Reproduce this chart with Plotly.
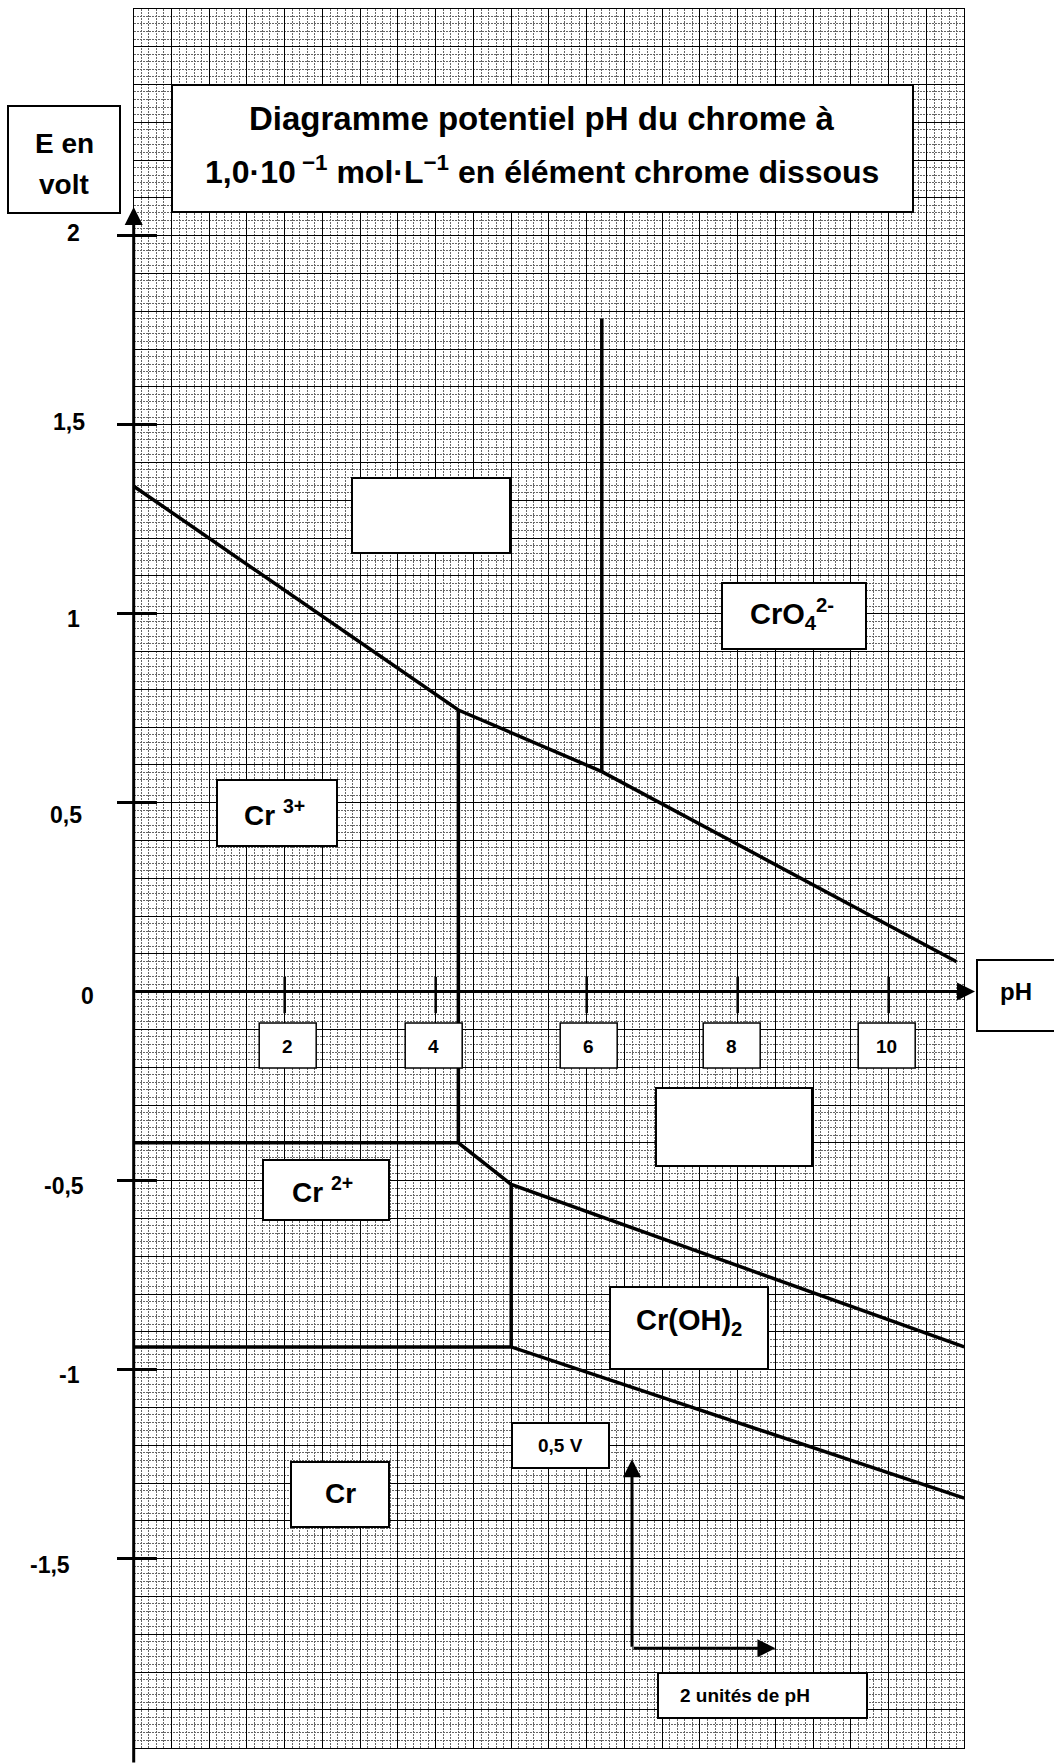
import plotly.graph_objects as go

# ---------------- data ----------------
# boundary Cr3+ / CrO4 2- region (upper broken line)
ph_upper = [0.0, 4.3, 6.2, 10.9]
e_upper = [1.337, 0.745, 0.582, 0.079]
# vertical Cr3+ / Cr(OH)3 boundary
ph_v1 = [4.3, 4.3]
e_v1 = [-0.40, 0.745]
# vertical boundary at pH 6.2
ph_v2 = [6.2, 6.2]
e_v2 = [0.582, 1.78]
# Cr3+/Cr2+ then Cr(OH)3/Cr2+ then Cr(OH)3/Cr(OH)2
ph_mid = [0.0, 4.3, 5.0, 11.0]
e_mid = [-0.40, -0.40, -0.51, -0.94]
# vertical Cr2+ / Cr(OH)2 boundary
ph_v3 = [5.0, 5.0]
e_v3 = [-0.94, -0.51]
# Cr2+/Cr then Cr(OH)2/Cr
ph_low = [0.0, 5.0, 11.0]
e_low = [-0.94, -0.94, -1.34]

# axis ticks
y_tick_vals = [2, 1.5, 1, 0.5, 0, -0.5, -1, -1.5]
y_tick_text = ["2", "1,5", "1", "0,5", "0", "-0,5", "-1", "-1,5"]
x_tick_vals = [2, 4, 6, 8, 10]
x_tick_text = ["2", "4", "6", "8", "10"]

# scale bar
scale_ph0, scale_e0 = 6.6, -1.737
scale_dph, scale_de = 1.9, 0.5

# ---------------- geometry / style ----------------
W, H = 1054, 1764
PX0, SX = 133.7, 75.5    # pixel of pH 0 and px per pH unit
PY0, SY = 991.6, 378.0   # pixel of E = 0 and px per volt
FONT = "Liberation Sans, Arial, sans-serif"

def P(px):
    return px / W

def Q(py):
    return 1 - py / H

x2_range = [(0 - PX0) / SX, (W - PX0) / SX]
y2_range = [(PY0 - H) / SY, PY0 / SY]

GRID_PH = [0, 11]
GRID_E = [-2.0, 2.6]
gx0 = (PX0 + GRID_PH[0] * SX) / W
gx1 = (PX0 + GRID_PH[1] * SX) / W
gy0 = 1 - (PY0 - GRID_E[0] * SY) / H
gy1 = 1 - (PY0 - GRID_E[1] * SY) / H

fig = go.Figure()

# invisible trace for the grid subplot
fig.add_trace(go.Scatter(x=[0], y=[0], mode="markers", marker=dict(opacity=0),
                         hoverinfo="skip", showlegend=False, xaxis="x", yaxis="y"))

line_style = dict(color="black", width=3.5)
for xs, ys in [(ph_upper, e_upper), (ph_v1, e_v1), (ph_v2, e_v2),
               (ph_mid, e_mid), (ph_v3, e_v3), (ph_low, e_low)]:
    fig.add_trace(go.Scatter(x=xs, y=ys, mode="lines", line=line_style,
                             hoverinfo="skip", showlegend=False,
                             xaxis="x2", yaxis="y2"))

# y tick marks
for v in y_tick_vals:
    if v == 0:
        continue
    fig.add_trace(go.Scatter(x=[(117 - PX0) / SX, (157 - PX0) / SX], y=[v, v],
                             mode="lines", line=dict(color="black", width=3),
                             hoverinfo="skip", showlegend=False,
                             xaxis="x2", yaxis="y2"))
# x tick marks
for v in x_tick_vals:
    fig.add_trace(go.Scatter(x=[v, v], y=[0.039, -0.057],
                             mode="lines", line=dict(color="black", width=2.5),
                             hoverinfo="skip", showlegend=False,
                             xaxis="x2", yaxis="y2"))

shapes = []
annotations = []

def box(x0, y0, x1, y1, lw=2):
    shapes.append(dict(type="rect", xref="paper", yref="paper",
                       x0=P(x0), x1=P(x1), y0=Q(y1), y1=Q(y0),
                       fillcolor="white", line=dict(color="black", width=lw),
                       layer="above"))

def text(t, x, y, size, xanchor="center"):
    annotations.append(dict(text=t, xref="paper", yref="paper", x=P(x), y=Q(y),
                            xanchor=xanchor, yanchor="middle", showarrow=False,
                            font=dict(family=FONT, size=size, color="black",
                                      weight="bold")))

# title
box(172, 85, 913, 212)
text("Diagramme potentiel pH du chrome à", 542, 118, 33)
text("1,0·10<sup> −1</sup> mol·L<sup>−1</sup> en élément chrome dissous", 542, 170, 32)

# E en volt
box(8, 106, 120, 213)
text("E en", 64, 143, 28)
text("volt", 64, 184, 28)

# pH label
box(977, 960, 1062, 1031)
text("pH", 1016, 991, 24)

# y tick labels
y_lab_x = [73.5, 69, 73.5, 66, 87, 64, 69, 50]
y_lab_dy = [-3, -3, 5, 12, 4, 5, 5, 6]
for v, t, lx, dy in zip(y_tick_vals, y_tick_text, y_lab_x, y_lab_dy):
    text(t, lx, PY0 - v * SY + dy, 23)

# x tick label boxes
x_lab_dx = [3, -2, 2, -6, -2]
for v, t, dx in zip(x_tick_vals, x_tick_text, x_lab_dx):
    cx = PX0 + v * SX + dx
    box(cx - 28.5, 1023, cx + 28.5, 1068, lw=1.5)
    text(t, cx, 1046, 19)

# species boxes
box(352, 478, 510, 553)                     # empty box
box(722, 583, 866, 649)
text("CrO<sub>4</sub><sup>2-</sup>", 792, 614, 29)
box(217, 780, 337, 846)
text("Cr <sup>3+</sup>", 274, 813, 28)
box(656, 1088, 812, 1166)                   # empty box
box(263, 1160, 389, 1220)
text("Cr <sup>2+</sup>", 322, 1190, 28)
box(610, 1287, 768, 1369)
text("Cr(OH)<sub>2</sub>", 689, 1322, 29)
box(291, 1462, 389, 1527)
text("Cr", 340, 1493, 28)
box(512, 1423, 609, 1468)
text("0,5 V", 560, 1445, 19)
box(658, 1673, 867, 1718)
text("2 unités de pH", 745, 1695, 19)

# axis arrows
def arrow(x0, y0, x1, y1, w=3, size=1.2):
    annotations.append(dict(x=x1, y=y1, ax=x0, ay=y0, xref="x2", yref="y2",
                            axref="x2", ayref="y2", text="", showarrow=True,
                            arrowhead=2, arrowsize=size, arrowwidth=w,
                            arrowcolor="black", standoff=0, startstandoff=0))

arrow(0, y2_range[0], 0, (PY0 - 207) / SY)
arrow(0, 0, (975 - PX0) / SX, 0)
arrow(scale_ph0, scale_e0, scale_ph0, scale_e0 + scale_de)
arrow(scale_ph0, scale_e0, scale_ph0 + scale_dph, scale_e0)

fig.update_layout(
    width=W, height=H,
    margin=dict(l=0, r=0, t=0, b=0),
    paper_bgcolor="white", plot_bgcolor="rgba(0,0,0,0)",
    showlegend=False,
    shapes=shapes, annotations=annotations,
    xaxis=dict(domain=[gx0, gx1], range=GRID_PH, anchor="y",
               tick0=0, dtick=0.5, showgrid=True, gridcolor="black", gridwidth=1.3,
               minor=dict(tick0=0, dtick=0.1, showgrid=True, gridcolor="#666666",
                          gridwidth=1, griddash="2px,1px"),
               showticklabels=False, ticks="", zeroline=False,
               showline=True, mirror=True, linecolor="black", linewidth=1.3,
               fixedrange=True),
    yaxis=dict(domain=[gy0, gy1], range=GRID_E, anchor="x",
               tick0=0, dtick=0.1, showgrid=True, gridcolor="black", gridwidth=1.3,
               minor=dict(tick0=0, dtick=0.02, showgrid=True, gridcolor="#666666",
                          gridwidth=1, griddash="2px,1px"),
               showticklabels=False, ticks="", zeroline=False,
               showline=True, mirror=True, linecolor="black", linewidth=1.3,
               fixedrange=True),
    xaxis2=dict(domain=[0, 1], range=x2_range, anchor="y2", visible=False,
                fixedrange=True),
    yaxis2=dict(domain=[0, 1], range=y2_range, anchor="x2", visible=False,
                fixedrange=True),
)

fig.write_html("out.html", config={"displayModeBar": False},
               post_script="document.body.style.margin='0px';")
